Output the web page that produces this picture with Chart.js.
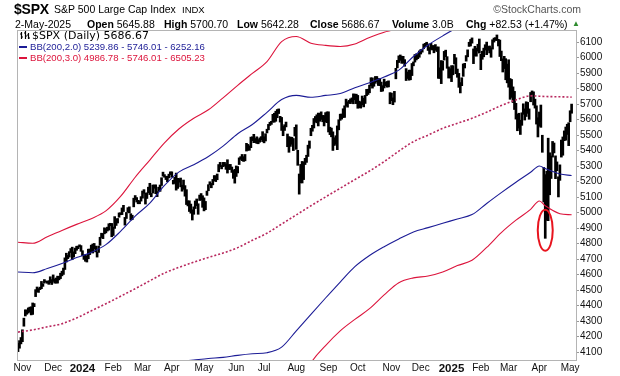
<!DOCTYPE html>
<html>
<head>
<meta charset="utf-8">
<script src="https://cdn.jsdelivr.net/npm/chart.js@4.4.1/dist/chart.umd.min.js"></script>
<style>
  body { margin: 0; background: #fff; }
  #wrap { position: relative; width: 620px; height: 376px; font-family: "Liberation Sans", Arial, sans-serif; color: #000; }
  #c { position: absolute; left: 0; top: 0; }
  .t { position: absolute; white-space: nowrap; line-height: 1; }
  .h2 { font-size: 10.5px; top: 19px; }
  .h2 b { font-weight: bold; font-size: 10.5px; }
  .lg { position: absolute; white-space: nowrap; height: 11px; line-height: 11px; }
  .dash { position: absolute; width: 8px; height: 2px; }
</style>
</head>
<body>
<div id="wrap">
  <canvas id="c" width="620" height="376"></canvas>

  <div class="t" style="left:14px;top:2px;font-size:14px;font-weight:bold;letter-spacing:-0.2px;">$SPX</div>
  <div class="t" style="left:54px;top:4px;font-size:10.5px;">S&amp;P 500 Large Cap Index</div>
  <div class="t" style="left:182px;top:5px;font-size:9.5px;">INDX</div>
  <div class="t" style="right:39px;top:4px;font-size:10.5px;color:#555;">&copy;StockCharts.com</div>

  <div class="t h2" style="left:15px;">2-May-2025</div>
  <div class="t h2" style="left:87px;"><b>Open</b> 5645.88</div>
  <div class="t h2" style="left:164px;"><b>High</b> 5700.70</div>
  <div class="t h2" style="left:237px;"><b>Low</b> 5642.28</div>
  <div class="t h2" style="left:310px;"><b>Close</b> 5686.67</div>
  <div class="t h2" style="left:392px;"><b>Volume</b> 3.0B</div>
  <div class="t h2" style="left:466px;"><b>Chg</b> +82.53 (+1.47%)</div>
  <div class="t" style="left:572px;top:20px;font-size:8px;color:#2e8b2e;">&#9650;</div>

  <svg style="position:absolute;left:20px;top:31px" width="10" height="9">
    <path d="M1.5 1v7M0 3h1.5M1.5 6h1.5M5.5 0v8M4 2h1.5M5.5 5h1.5M8.5 2v6M7 4h1.5M8.5 7h1.5" stroke="#000" stroke-width="1.2" fill="none"/>
  </svg>
  <div class="lg" style="left:32px;top:30px;font-family:'DejaVu Sans',sans-serif;font-size:11px;">$SPX (Daily) 5686.67</div>
  <div class="dash" style="left:19px;top:46px;background:#1c1c96;"></div>
  <div class="lg" style="left:30px;top:41px;font-size:9.6px;color:#1c1c96;">BB(200,2.0) 5239.86 - 5746.01 - 6252.16</div>
  <div class="dash" style="left:19px;top:57px;background:#dc143c;"></div>
  <div class="lg" style="left:30px;top:52px;font-size:9.6px;color:#dc143c;">BB(200,3.0) 4986.78 - 5746.01 - 6505.23</div>
</div>

<script>
// month labels sit on the first trading day of each month (trading-day index)
const monthLabels = ['Nov', 'Dec', '2024', 'Feb', 'Mar', 'Apr', 'May', 'Jun', 'Jul', 'Aug',
  'Sep', 'Oct', 'Nov', 'Dec', '2025', 'Feb', 'Mar', 'Apr', 'May'];
const monthStarts = [3, 24, 44, 65, 85, 105, 127, 149, 168, 190, 212, 232, 255, 275, 296, 316, 335, 356, 377];
const priceTicks = [4100, 4200, 4300, 4400, 4500, 4600, 4700, 4800, 4900, 5000, 5100,
  5200, 5300, 5400, 5500, 5600, 5700, 5800, 5900, 6000, 6100];

// daily lows / highs, 27-Oct-2023 .. 2-May-2025 (one row per month)
const lows = [
  4104, 4126, 4154,
  4168, 4268, 4334, 4345, 4353, 4360, 4341, 4344, 4394, 4459, 4490, 4486, 4504, 4510, 4525, 4546, 4554, 4545, 4538, 4548, 4537,
  4557, 4546, 4546, 4546, 4567, 4575, 4593, 4602, 4634, 4682, 4704, 4714, 4743, 4697, 4714, 4736, 4758, 4768, 4780, 4751,
  4722, 4699, 4687, 4682, 4703, 4730, 4750, 4740, 4768, 4747, 4714, 4744, 4790, 4840, 4833, 4864, 4870, 4882, 4888, 4916, 4845,
  4853, 4899, 4918, 4934, 4971, 4987, 4988, 5008, 4920, 4963, 5004, 4999, 4953, 4955, 5038, 5084, 5069, 5058, 5058, 5075,
  5094, 5126, 5056, 5092, 5129, 5117, 5103, 5127, 5158, 5123, 5104, 5138, 5138, 5176, 5236, 5229, 5214, 5200, 5225, 5246,
  5229, 5185, 5189, 5146, 5157, 5197, 5167, 5139, 5151, 5107, 5053, 5044, 5008, 4997, 4953, 4990, 5027, 5046, 4990, 5079, 5082, 5035,
  5012, 5020, 5112, 5142, 5181, 5161, 5180, 5207, 5201, 5213, 5264, 5297, 5283, 5297, 5301, 5280, 5256, 5279, 5279, 5260, 5222, 5191,
  5234, 5257, 5311, 5344, 5336, 5331, 5335, 5398, 5403, 5403, 5420, 5465, 5452, 5452, 5447, 5445, 5455, 5471, 5459,
  5451, 5463, 5515, 5535, 5563, 5570, 5585, 5584, 5590, 5613, 5640, 5585, 5531, 5497, 5531, 5554, 5426, 5390, 5428, 5442, 5401, 5495,
  5409, 5306, 5120, 5193, 5192, 5214, 5311, 5325, 5363, 5416, 5497, 5526, 5547, 5585, 5580, 5560, 5590, 5602, 5587, 5560, 5585, 5581,
  5521, 5504, 5490, 5402, 5434, 5442, 5407, 5535, 5596, 5604, 5614, 5615, 5689, 5681, 5707, 5704, 5714, 5703, 5729, 5704,
  5674, 5678, 5675, 5696, 5683, 5705, 5755, 5763, 5774, 5820, 5804, 5816, 5835, 5846, 5821, 5820, 5782, 5785, 5805, 5819, 5810, 5812, 5703,
  5723, 5697, 5714, 5864, 5935, 5969, 5983, 5964, 5966, 5945, 5853, 5866, 5855, 5858, 5885, 5948, 5972, 5986, 5994, 6003,
  6024, 6036, 6058, 6071, 6080, 6047, 6024, 6054, 6050, 6032, 6048, 6040, 5867, 5866, 5833, 5920, 5985, 6007, 5932, 5869, 5870,
  5846, 5890, 5960, 5897, 5874, 5809, 5773, 5820, 5880, 5934, 5978, 6006, 6073, 6076, 6094, 5962, 6012, 6010, 6043, 6030,
  5923, 5990, 6006, 6050, 6020, 6048, 6031, 6003, 6056, 6101, 6111, 6111, 6076, 6008, 5981, 5908, 5930, 5858, 5838,
  5810, 5732, 5744, 5711, 5666, 5604, 5529, 5546, 5505, 5564, 5635, 5598, 5621, 5641, 5603, 5716, 5764, 5695, 5675, 5572, 5489,
  5558, 5551, 5390, 5069, 4835, 4951, 4949, 5116, 5221, 5359, 5386, 5220, 5271, 5102, 5209, 5359, 5371, 5465, 5468, 5505, 5433,
  5587, 5642
];
const highs = [
  4157, 4175, 4195,
  4245, 4320, 4374, 4372, 4386, 4391, 4393, 4418, 4414, 4504, 4521, 4511, 4520, 4557, 4542, 4569, 4560, 4558, 4562, 4587, 4569,
  4599, 4573, 4579, 4591, 4590, 4610, 4623, 4643, 4709, 4739, 4725, 4749, 4769, 4778, 4748, 4772, 4784, 4785, 4793, 4788,
  4755, 4729, 4726, 4721, 4765, 4766, 4791, 4798, 4802, 4785, 4745, 4785, 4842, 4868, 4866, 4903, 4898, 4907, 4929, 4932, 4931,
  4907, 4975, 4960, 4963, 4999, 5000, 5031, 5048, 4970, 5002, 5033, 5038, 4994, 4984, 5094, 5111, 5098, 5080, 5077, 5104,
  5140, 5149, 5127, 5128, 5165, 5190, 5125, 5179, 5179, 5180, 5137, 5165, 5179, 5226, 5262, 5246, 5235, 5236, 5249, 5264,
  5264, 5209, 5229, 5256, 5222, 5219, 5224, 5178, 5211, 5175, 5149, 5077, 5077, 5056, 5019, 5038, 5076, 5089, 5058, 5114, 5124, 5110,
  5096, 5073, 5140, 5181, 5200, 5189, 5215, 5240, 5239, 5250, 5311, 5325, 5305, 5325, 5325, 5315, 5342, 5311, 5312, 5295, 5273, 5280,
  5302, 5298, 5354, 5362, 5376, 5362, 5376, 5448, 5441, 5432, 5488, 5490, 5506, 5479, 5490, 5472, 5483, 5491, 5523,
  5490, 5510, 5539, 5570, 5584, 5590, 5635, 5642, 5655, 5666, 5670, 5622, 5615, 5557, 5568, 5585, 5508, 5491, 5488, 5487, 5479, 5551,
  5567, 5403, 5250, 5312, 5331, 5328, 5351, 5371, 5436, 5463, 5545, 5564, 5608, 5621, 5632, 5643, 5642, 5651, 5628, 5627, 5646, 5651,
  5651, 5552, 5546, 5522, 5484, 5497, 5560, 5600, 5636, 5637, 5671, 5690, 5733, 5716, 5725, 5735, 5741, 5767, 5765, 5765,
  5757, 5720, 5715, 5753, 5739, 5757, 5796, 5797, 5823, 5871, 5870, 5846, 5879, 5879, 5866, 5864, 5843, 5820, 5862, 5843, 5847, 5851, 5775,
  5772, 5741, 5783, 5932, 5983, 6012, 6018, 6010, 6009, 5988, 5930, 5908, 5920, 5920, 5963, 5973, 6021, 6025, 6020, 6044,
  6053, 6055, 6088, 6093, 6100, 6089, 6066, 6093, 6079, 6078, 6085, 6069, 6070, 5935, 5982, 5978, 6041, 6049, 6007, 5941, 5929,
  5949, 5949, 6022, 6000, 5927, 5899, 5840, 5871, 5960, 5964, 6014, 6051, 6100, 6118, 6128, 6057, 6074, 6062, 6087, 6121,
  6023, 6042, 6062, 6084, 6101, 6073, 6076, 6064, 6116, 6127, 6130, 6147, 6119, 6114, 6043, 5993, 6009, 5994, 5959,
  5987, 5866, 5860, 5812, 5783, 5706, 5636, 5642, 5597, 5645, 5703, 5670, 5716, 5712, 5670, 5776, 5786, 5780, 5733, 5690, 5613,
  5650, 5695, 5500, 5292, 5246, 5268, 5481, 5387, 5366, 5460, 5450, 5367, 5328, 5232, 5309, 5469, 5489, 5528, 5553, 5571, 5581,
  5658, 5701
];

// Bollinger band readings at these trading-day indices
const bandIdx = [0, 10, 20, 30, 40, 50, 60, 70, 80, 90, 100, 110, 120, 130, 140, 150, 160, 170, 180, 190,
  200, 210, 220, 230, 240, 250, 260, 270, 280, 290, 300, 310, 320, 330, 340, 350, 356, 360, 370, 378];
const sma200 = [4230, 4244, 4264, 4284, 4321, 4367, 4413, 4461, 4510, 4561, 4611, 4648, 4681, 4712, 4740, 4775, 4822, 4868, 4927, 4986,
  5045, 5102, 5158, 5214, 5269, 5330, 5397, 5459, 5501, 5544, 5577, 5609, 5649, 5692, 5728, 5754, 5752, 5750, 5748, 5746];
const bb2Upper = [4618, 4613, 4640, 4672, 4711, 4744, 4794, 4880, 4978, 5062, 5176, 5264, 5310, 5363, 5430, 5510, 5569, 5648, 5730, 5757,
  5745, 5757, 5769, 5806, 5839, 5876, 5920, 6008, 6082, 6141, 6194, 6230, 6238, 6254, 6259, 6247, 6202, 6215, 6246, 6252];
const bb2Lower = [3842, 3875, 3888, 3896, 3931, 3970, 3990, 4000, 4010, 4020, 4030, 4040, 4050, 4060, 4067, 4080, 4090, 4097, 4133, 4238,
  4345, 4450, 4553, 4652, 4724, 4781, 4831, 4876, 4904, 4932, 4960, 4988, 5060, 5130, 5197, 5261, 5302, 5285, 5250, 5240];
const bb3Upper = [4810, 4803, 4845, 4886, 4925, 4962, 5012, 5105, 5229, 5340, 5451, 5542, 5610, 5664, 5741, 5822, 5899, 5975, 6104, 6137,
  6094, 6080, 6073, 6089, 6131, 6165, 6200, 6334, 6391, 6462, 6502, 6540, 6533, 6535, 6525, 6494, 6427, 6448, 6495, 6505];
const bb3Lower = [3650, 3680, 3690, 3690, 3710, 3770, 3810, 3820, 3790, 3780, 3770, 3750, 3750, 3760, 3740, 3730, 3740, 3760, 3750, 3830,
  4030, 4143, 4238, 4312, 4381, 4470, 4549, 4580, 4592, 4618, 4659, 4693, 4776, 4872, 4952, 5022, 5076, 5045, 4994, 4987];

// red circle marking the April low
const markDay = 360;
const markPrice = 4887;

const BLUE = '#1c1c96';
const RED = '#dc143c';
const MID = '#b8285e';
const FRAME = '#b4b4b4';
const FONT = '"Liberation Sans", Arial, sans-serif';

const bars = lows.map((lo, i) => ({ x: i, y: [lo, highs[i]] }));
const band = vals => bandIdx.map((x, i) => ({ x: x, y: vals[i] }));

function bandLine(vals, color, dash) {
  return {
    type: 'line',
    data: band(vals),
    borderColor: color,
    borderWidth: dash ? 1.6 : 1.1,
    borderDash: dash || [],
    pointRadius: 0,
    cubicInterpolationMode: 'monotone',
    order: 0
  };
}

const frame = {
  id: 'frame',
  afterDraw(chart) {
    const a = chart.chartArea;
    const c = chart.ctx;
    c.save();
    c.strokeStyle = FRAME;
    c.lineWidth = 1;
    c.strokeRect(Math.round(a.left) + 0.5, Math.round(a.top) + 0.5,
      Math.round(a.right - a.left), Math.round(a.bottom - a.top));
    c.restore();
  }
};

const ring = {
  id: 'ring',
  afterDatasetsDraw(chart) {
    const x = chart.scales.x.getPixelForValue(markDay);
    const y = chart.scales.y.getPixelForValue(markPrice);
    const c = chart.ctx;
    c.save();
    c.strokeStyle = '#e8141e';
    c.lineWidth = 2;
    c.beginPath();
    c.ellipse(x, y, 7.5, 20.5, 0, 0, Math.PI * 2);
    c.stroke();
    c.restore();
  }
};

new Chart(document.getElementById('c'), {
  type: 'bar',
  data: {
    datasets: [
      bandLine(bb3Upper, RED),
      bandLine(bb3Lower, RED),
      bandLine(bb2Upper, BLUE),
      bandLine(bb2Lower, BLUE),
      bandLine(sma200, MID, [2, 2]),
      {
        type: 'bar',
        data: bars,
        backgroundColor: '#000',
        barThickness: 2,
        borderWidth: 0,
        grouped: false,
        order: 1
      }
    ]
  },
  options: {
    responsive: false,
    animation: false,
    devicePixelRatio: 1,
    layout: { padding: { left: 17, top: 30, right: 0, bottom: 0 } },
    plugins: { legend: { display: false }, tooltip: { enabled: false } },
    scales: {
      x: {
        type: 'linear',
        min: -0.7,
        max: 381,
        offset: false,
        grid: { display: false, drawTicks: false, tickLength: 0 },
        border: { display: false },
        afterBuildTicks: s => { s.ticks = monthStarts.map(v => ({ value: v })); },
        afterFit: s => { s.height = 16; },
        ticks: {
          autoSkip: false,
          maxRotation: 0,
          padding: 2,
          color: '#111',
          font: ctx => {
            const yr = ctx.tick && /^\d{4}$/.test(ctx.tick.label);
            return { family: FONT, size: yr ? 11.5 : 10, weight: yr ? 'bold' : 'normal' };
          },
          callback: (v, i) => monthLabels[i]
        }
      },
      y: {
        position: 'right',
        min: 4050,
        max: 6179,
        grid: { drawOnChartArea: false, tickLength: 3, color: '#999' },
        border: { display: false },
        afterBuildTicks: s => { s.ticks = priceTicks.map(v => ({ value: v })); },
        afterFit: s => { s.width = 44; },
        ticks: {
          padding: 1,
          color: '#111',
          font: { family: FONT, size: 10 },
          callback: v => String(v)
        }
      }
    }
  },
  plugins: [frame, ring]
});
</script>
</body>
</html>
